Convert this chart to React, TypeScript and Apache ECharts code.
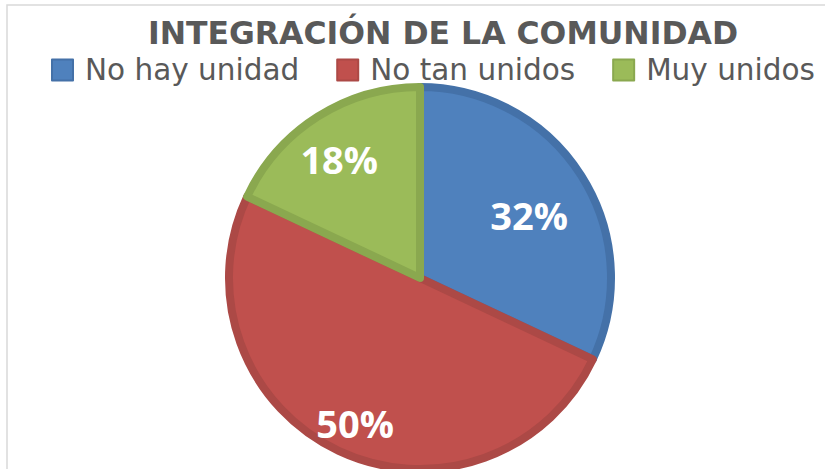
import React, { useEffect, useRef } from "react";
import * as echarts from "echarts";

const TITLE = "INTEGRACIÓN DE LA COMUNIDAD";
const categories = ["No hay unidad", "No tan unidos", "Muy unidos"];
const values = [32, 50, 18];
const fillColors = ["#4F81BD", "#C0504D", "#9BBB59"];
const borderColors = ["#4471A8", "#AC4946", "#8AA84F"];
const labelShift = [
  [26, -10],
  [-23, 56],
  [-28, -36],
];

export default function App() {
  const ref = useRef<HTMLDivElement>(null);
  useEffect(() => {
    if (!ref.current) return;
    const chart = echarts.init(ref.current, null, { renderer: "svg" });
    chart.setOption({
      animation: false,
      backgroundColor: "#ffffff",
      title: {
        text: TITLE,
        left: 438,
        textAlign: "center",
        top: 16,
        padding: [2, 5, 2, 5],
        textStyle: {
          fontFamily: "DejaVu Sans, sans-serif",
          fontWeight: "bold",
          fontSize: 31.5,
          lineHeight: 30,
          color: "#595959",
        },
      },
      legend: {
        data: categories,
        top: 50,
        left: 46,
        itemWidth: 21,
        itemHeight: 21,
        itemGap: 37,
        icon: "rect",
        textStyle: {
          fontFamily: "DejaVu Sans, sans-serif",
          fontSize: 29.5,
          lineHeight: 27,
          color: "#595959",
          padding: [0, 0, 0, 7],
        },
      },
      graphic: [
        {
          type: "rect",
          shape: { x: 7, y: 5, width: 840, height: 490 },
          style: { fill: "none", stroke: "#d9d9d9", lineWidth: 1.5 },
          silent: true,
        },
      ],
      series: [
        {
          type: "pie",
          center: [420, 278],
          radius: 191,
          startAngle: 90,
          clockwise: true,
          avoidLabelOverlap: false,
          emphasis: { disabled: true },
          label: {
            show: true,
            position: "inside",
            formatter: "{d}%",
            color: "#ffffff",
            fontFamily: "Open Sans, sans-serif",
            fontWeight: "bold",
            fontSize: 38,
          },
          labelLine: { show: false },
          labelLayout: (params: any) => {
            const s = labelShift[params.dataIndex] || [0, 0];
            return { dx: s[0], dy: s[1] };
          },
          data: categories.map((name, i) => ({
            name,
            value: values[i],
            itemStyle: {
              color: fillColors[i],
              borderColor: borderColors[i],
              borderWidth: 8,
            },
          })),
        },
      ],
    });
    return () => chart.dispose();
  }, []);
  return (
    <div
      ref={ref}
      style={{ position: "fixed", left: 0, top: 0, width: 825, height: 469 }}
    />
  );
}
